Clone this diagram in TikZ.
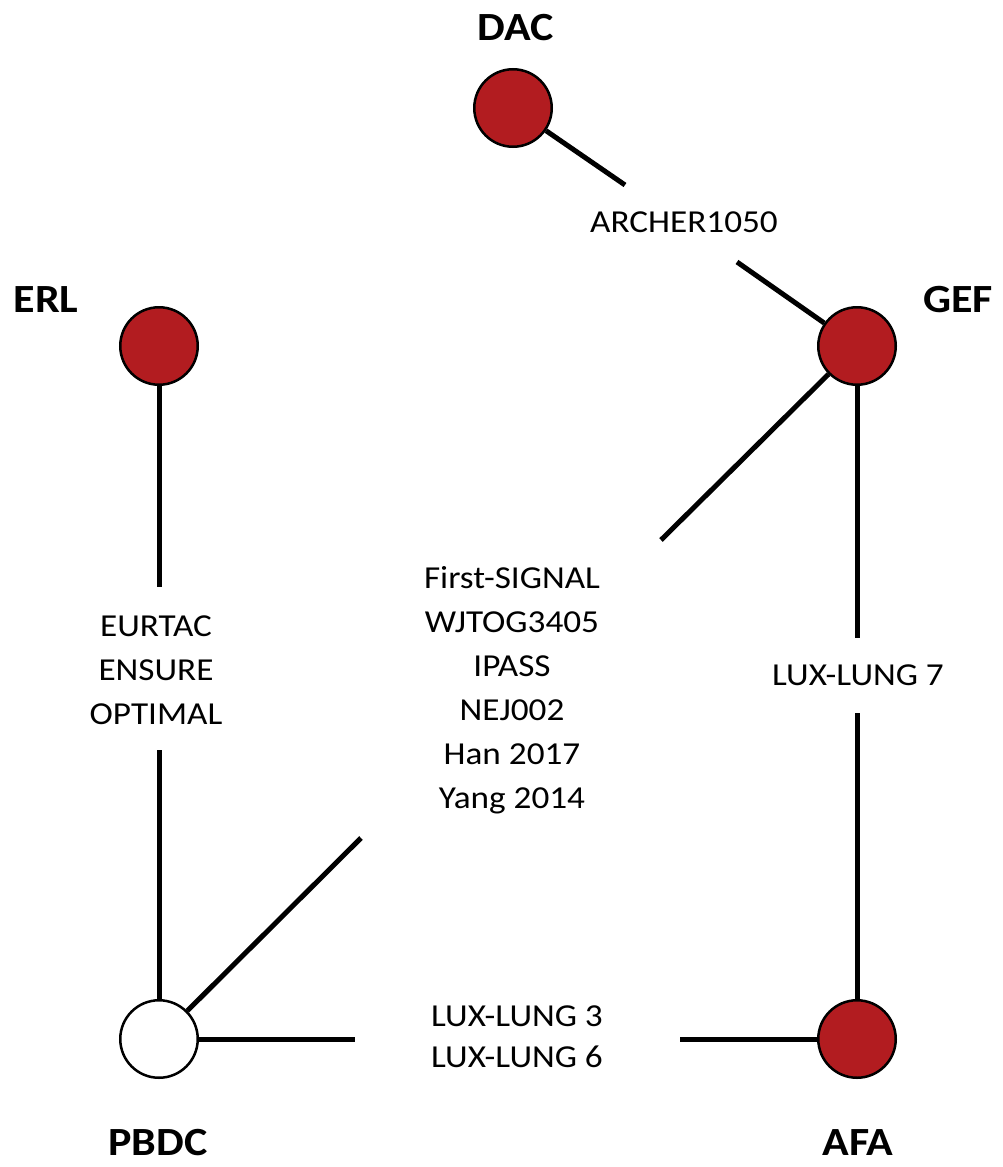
\documentclass[tikz,border=0pt]{standalone}
\usepackage{fontspec}
\setmainfont{Carlito}[FakeStretch=1.1]
\usetikzlibrary{calc}
\definecolor{nodered}{RGB}{178,28,32}
\begin{document}
\begin{tikzpicture}[x=1pt,y=-1pt,
  trt/.style={circle, draw=black, line width=2.5pt, fill=nodered, minimum size=77.5pt, inner sep=0pt},
  refnode/.style={trt, fill=white},
  drugname/.style={font=\fontsize{40}{48}\selectfont\bfseries, inner sep=0pt},
  study/.style={font=\fontsize{32}{44}\selectfont, align=center, inner sep=0pt},
  link/.style={line width=5pt}]
\useasboundingbox[fill=white] (0,0) rectangle (1003,1167);

% treatment nodes
\node[trt] (DAC) at (513,108) {};
\node[trt] (ERL) at (159,346) {};
\node[trt] (GEF) at (857,346) {};
\node[refnode] (PBDC) at (159,1039) {};
\node[trt] (AFA) at (857,1039) {};

% names
\node[drugname] (lDAC) at (516,28) {DAC};
\node[drugname] (lERL) at (46,300) {ERL};
\node[drugname] (lGEF) at (958,300) {GEF};
\node[drugname] (lPBDC) at (158,1143) {PBDC};
\node[drugname] (lAFA) at (858,1143) {AFA};

% study labels
\node[study] (sArcher) at (684,222) {ARCHER1050};
\node[study] (sErl) at (156,670) {EURTAC\\ENSURE\\OPTIMAL};
\node[study] (sGef) at (512,690) {First-SIGNAL\\WJTOG3405\\IPASS\\NEJ002\\Han 2017\\Yang 2014};
\node[study] (sLux7) at (858,675) {LUX-LUNG 7};
\node[study, font=\fontsize{32}{41}\selectfont] (sLux36) at (517,1037) {LUX-LUNG 3\\LUX-LUNG 6};

% gap end points
\coordinate (d1) at (625,185);
\coordinate (d2) at (737,262);
\coordinate (e1) at (159,587);
\coordinate (e2) at (159,750);
\coordinate (g1) at (661,540);
\coordinate (g2) at (361,838);
\coordinate (a1) at (857,638);
\coordinate (a2) at (857,713);
\coordinate (p1) at (355,1039);
\coordinate (p2) at (680,1039);

% connectors
\draw[link] (DAC) -- (d1);
\draw[link] (d2) -- (GEF);
\draw[link] (ERL) -- (e1);
\draw[link] (e2) -- (PBDC);
\draw[link] (GEF) -- (g1);
\draw[link] (g2) -- (PBDC);
\draw[link] (GEF) -- (a1);
\draw[link] (a2) -- (AFA);
\draw[link] (PBDC) -- (p1);
\draw[link] (p2) -- (AFA);
\end{tikzpicture}
\end{document}
